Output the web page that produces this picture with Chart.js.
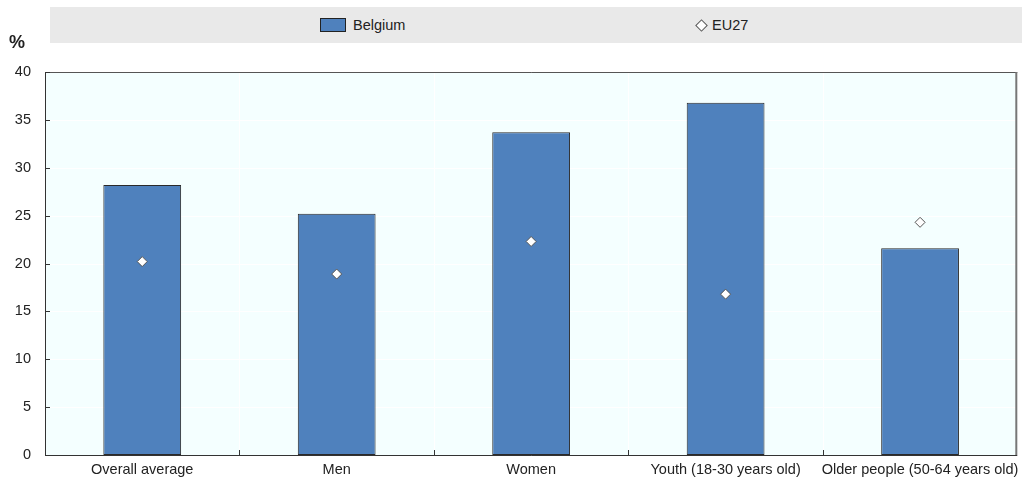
<!DOCTYPE html>
<html>
<head>
<meta charset="utf-8">
<script src="https://cdn.jsdelivr.net/npm/chart.js@4/dist/chart.umd.min.js"></script>
<style>
  body { margin: 0; background: #fff; font-family: "Liberation Sans", Arial, sans-serif; }
  #wrap { position: relative; width: 1025px; height: 484px; }
  #legend { position: absolute; left: 50px; top: 7px; width: 972px; height: 36px; background: #e9e9e9; font-size: 14.5px; color: #222; }
  .item { position: absolute; top: 10px; height: 16px; line-height: 16px; }
  .box { display: inline-block; width: 26px; height: 14px; background: #4f81bd; border: 1px solid #222; vertical-align: middle; margin-right: 7px; box-sizing: border-box; position: relative; top: -1px; }
  .dia { display: inline-block; width: 7px; height: 7px; background: #fff; border: 1px solid #555; transform: rotate(45deg); vertical-align: middle; margin-right: 6px; margin-left: 2px; position: relative; top: -1px; }
  #unit { position: absolute; left: 9px; top: 32px; font-size: 18px; font-weight: bold; color: #222; }
</style>
</head>
<body>
<div id="wrap">
  <canvas id="chart" width="1025" height="484"></canvas>
  <div id="legend">
    <div class="item" style="left:270px"><span class="box"></span>Belgium</div>
    <div class="item" style="left:645px"><span class="dia"></span>EU27</div>
  </div>
  <div id="unit">%</div>
</div>
<script>
// datos
const categorias = ["Overall average", "Men", "Women", "Youth (18-30 years old)", "Older people (50-64 years old)"];
const belgica = [28.2, 25.2, 33.7, 36.8, 21.6];
const ue27 = [20.2, 18.9, 22.3, 16.8, 24.3];
const ticksY = [0, 5, 10, 15, 20, 25, 30, 35, 40];

// fondo, bordes y marcas hacia adentro
const marcoPlugin = {
  id: "marco",
  beforeDatasetsDraw(chart) {
    const { ctx, chartArea: a } = chart;
    ctx.save();
    ctx.fillStyle = "#f4ffff";
    ctx.fillRect(a.left, a.top, a.right - a.left, a.bottom - a.top);
    ctx.strokeStyle = "#ffffff";
    ctx.lineWidth = 1;
    const ys = chart.scales.y;
    ticksY.forEach(v => {
      const y = Math.round(ys.getPixelForValue(v)) + 0.5;
      ctx.beginPath(); ctx.moveTo(a.left, y); ctx.lineTo(a.right, y); ctx.stroke();
    });
    const xs = chart.scales.x;
    for (let i = 1; i < categorias.length; i++) {
      const x = Math.round((xs.getPixelForValue(i - 1) + xs.getPixelForValue(i)) / 2) + 0.5;
      ctx.beginPath(); ctx.moveTo(x, a.top); ctx.lineTo(x, a.bottom); ctx.stroke();
    }
    ctx.restore();
  },
  afterDatasetsDraw(chart) {
    const { ctx, chartArea: a } = chart;
    ctx.save();
    // borde superior y derecho
    ctx.strokeStyle = "#555";
    ctx.lineWidth = 1;
    ctx.beginPath(); ctx.moveTo(a.left, a.top + 0.5); ctx.lineTo(a.right, a.top + 0.5); ctx.stroke();
    ctx.strokeStyle = "#777";
    ctx.lineWidth = 2;
    ctx.beginPath(); ctx.moveTo(a.right - 1, a.top); ctx.lineTo(a.right - 1, a.bottom); ctx.stroke();
    // ejes
    ctx.strokeStyle = "#333";
    ctx.lineWidth = 1;
    ctx.beginPath(); ctx.moveTo(a.left + 0.5, a.top); ctx.lineTo(a.left + 0.5, a.bottom + 1); ctx.stroke();
    ctx.beginPath(); ctx.moveTo(a.left, a.bottom + 0.5); ctx.lineTo(a.right, a.bottom + 0.5); ctx.stroke();
    const ys = chart.scales.y;
    ticksY.forEach(v => {
      const y = Math.round(ys.getPixelForValue(v)) + 0.5;
      ctx.beginPath(); ctx.moveTo(a.left, y); ctx.lineTo(a.left + 5, y); ctx.stroke();
    });
    const xs = chart.scales.x;
    for (let i = 1; i < categorias.length; i++) {
      const x = Math.round((xs.getPixelForValue(i - 1) + xs.getPixelForValue(i)) / 2) + 0.5;
      ctx.beginPath(); ctx.moveTo(x, a.bottom); ctx.lineTo(x, a.bottom - 5); ctx.stroke();
    }
    ctx.restore();
  }
};

const contenedor = document.querySelector("#chart").getContext("2d");

const grafico = new Chart(contenedor, {
  type: "bar",
  data: {
    labels: categorias,
    datasets: [
      {
        type: "line",
        label: "EU27",
        data: ue27,
        showLine: false,
        pointStyle: "rectRot",
        pointRadius: 5,
        pointBackgroundColor: "#ffffff",
        pointBorderColor: "#555555",
        pointBorderWidth: 1,
        order: 0
      },
      {
        label: "Belgium",
        data: belgica,
        backgroundColor: "#4f81bd",
        borderColor: "#2a2a2a",
        borderWidth: 1,
        borderSkipped: false,
        categoryPercentage: 1,
        barPercentage: 0.4,
        order: 1
      }
    ]
  },
  options: {
    responsive: false,
    animation: false,
    layout: { padding: { top: 72, right: 6, left: 0, bottom: 0 } },
    plugins: { legend: { display: false }, tooltip: { enabled: false } },
    scales: {
      x: {
        offset: true,
        grid: { display: false, drawTicks: false, tickLength: 0 },
        border: { display: false },
        ticks: { autoSkip: false, color: "#222", font: { family: "Liberation Sans", size: 14.5 }, maxRotation: 0, padding: 6 },
        afterFit(s) { s.height = 29; }
      },
      y: {
        min: 0,
        max: 40,
        ticks: { stepSize: 5, color: "#222", font: { family: "Liberation Sans", size: 14.5 }, padding: 14 },
        grid: { display: false, drawTicks: false, tickLength: 0 },
        border: { display: false },
        afterFit(s) { s.width = 45; }
      }
    }
  },
  plugins: [marcoPlugin]
});
</script>
</body>
</html>
